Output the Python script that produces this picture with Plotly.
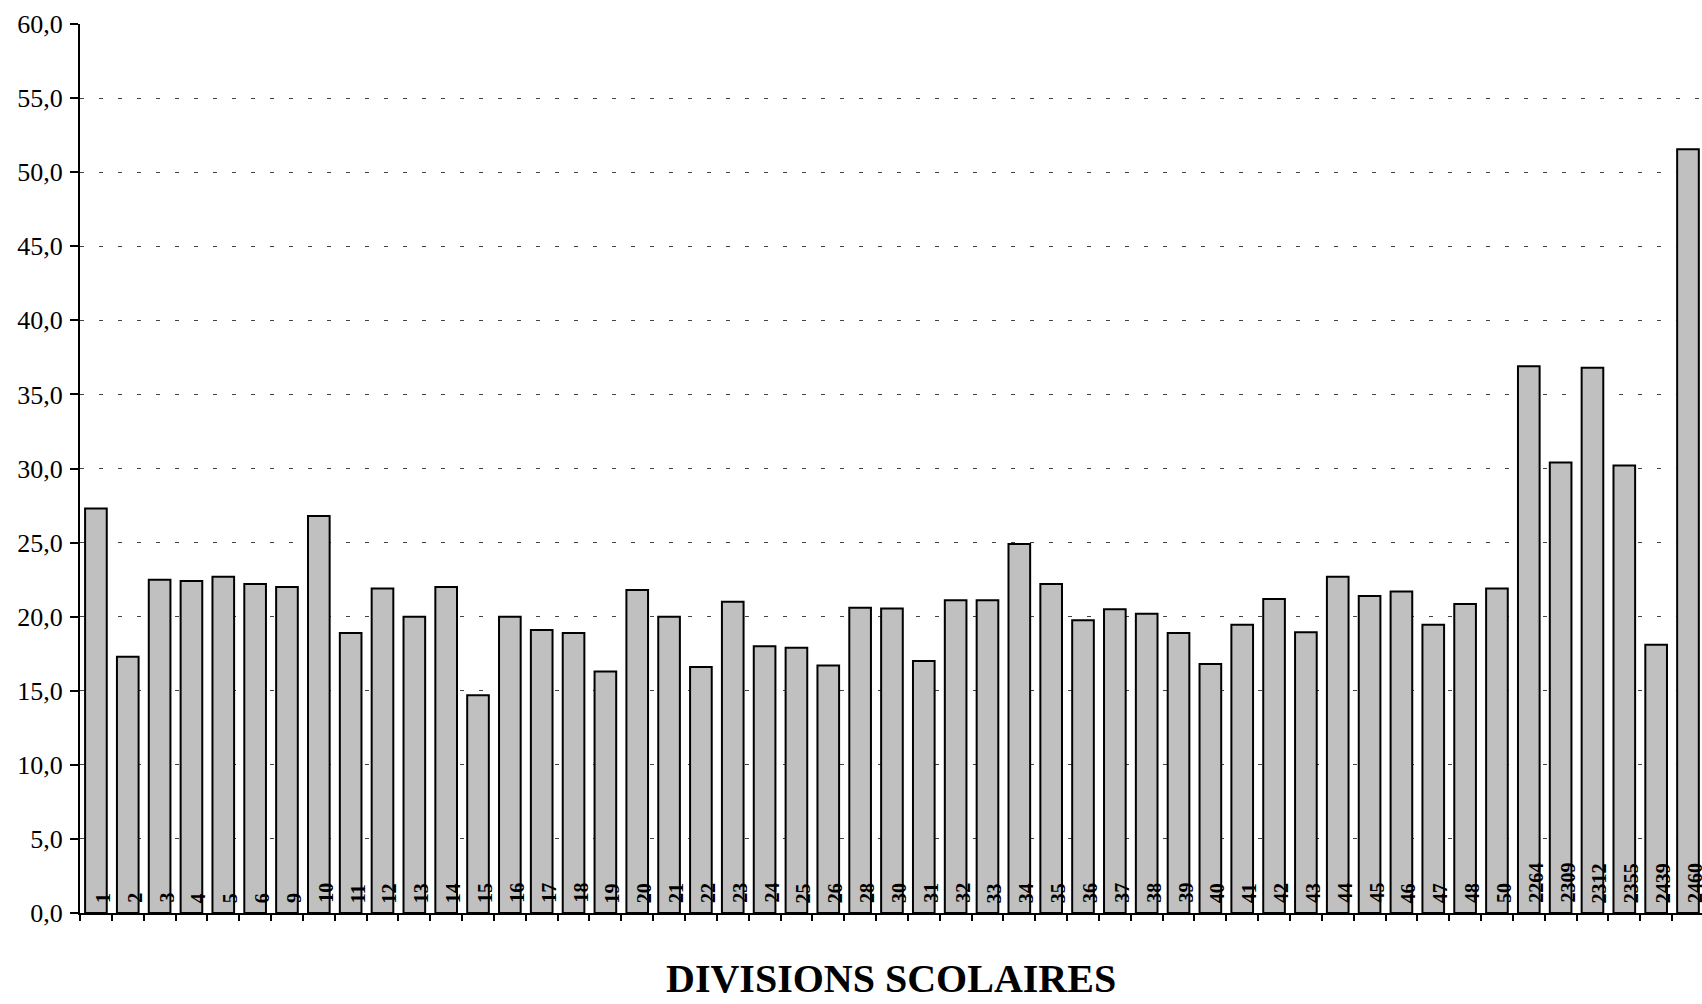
import plotly.graph_objects as go

categories = ["1", "2", "3", "4", "5", "6", "9", "10", "11", "12", "13", "14", "15", "16", "17",
              "18", "19", "20", "21", "22", "23", "24", "25", "26", "28", "30", "31", "32", "33",
              "34", "35", "36", "37", "38", "39", "40", "41", "42", "43", "44", "45", "46", "47",
              "48", "50", "2264", "2309", "2312", "2355", "2439", "2460"]
values = [27.3, 17.3, 22.5, 22.4, 22.7, 22.2, 22.0, 26.8, 18.9, 21.9, 20.0, 22.0, 14.7, 20.0, 19.1,
          18.9, 16.3, 21.8, 20.0, 16.6, 21.0, 18.0, 17.9, 16.7, 20.6, 20.55, 17.0, 21.1, 21.1,
          24.9, 22.2, 19.75, 20.5, 20.2, 18.9, 16.8, 19.45, 21.2, 18.95, 22.7, 21.4, 21.7, 19.45,
          20.85, 21.9, 36.9, 30.4, 36.8, 30.2, 18.1, 51.55]
y_ticks = [0, 5, 10, 15, 20, 25, 30, 35, 40, 45, 50, 55, 60]
grid_vals = [5, 10, 15, 20, 25, 30, 35, 40, 45, 50, 55]
x_title = "DIVISIONS SCOLAIRES"

FONT = "Liberation Serif"

fig = go.Figure()
fig.add_trace(go.Bar(
    x=categories, y=values,
    marker=dict(color="#C0C0C0", line=dict(color="black", width=2)),
    hoverinfo="x+y",
))
# invisible trace to carry the gridline axis
fig.add_trace(go.Scatter(x=[categories[0]], y=[0], yaxis="y2", mode="markers",
                         marker=dict(opacity=0), showlegend=False, hoverinfo="skip"))

annotations = []
for i, c in enumerate(categories):
    annotations.append(dict(
        x=i, y=0, xref="x", yref="y", text=c, showarrow=False, textangle=-90,
        xanchor="center", yanchor="bottom", xshift=7, yshift=8,
        font=dict(family=FONT, size=20, color="black", weight="bold"),
    ))
annotations.append(dict(
    x=0.5, y=-0.0742, xref="paper", yref="paper", text="<b>" + x_title + "</b>",
    showarrow=False, xanchor="center", yanchor="middle",
    font=dict(family=FONT, size=40, color="black"),
))

fig.update_layout(
    width=1702, height=1004,
    margin=dict(l=80, r=0, t=24, b=91),
    paper_bgcolor="white", plot_bgcolor="white",
    separators=", ",
    bargap=0.32,
    showlegend=False,
    font=dict(family=FONT, color="black"),
    xaxis=dict(
        type="category", range=[-0.5, 50.44],
        showline=True, linecolor="black", linewidth=2,
        ticks="outside", ticklen=6, tickwidth=2, tickcolor="black",
        tickson="boundaries", showticklabels=False, showgrid=False, zeroline=False,
    ),
    yaxis=dict(
        range=[0, 60], tickvals=y_ticks, tickformat=".1f",
        showline=True, linecolor="black", linewidth=2,
        ticks="outside", ticklen=8, tickwidth=2, tickcolor="black",
        tickfont=dict(family=FONT, size=26, color="black"),
        ticklabelstandoff=2,
        showgrid=False, zeroline=False,
    ),
    yaxis2=dict(
        range=[0, 60], overlaying="y", tickvals=grid_vals, showticklabels=False,
        showgrid=True, gridcolor="#444444", gridwidth=1, griddash="4px,15px",
        ticks="", zeroline=False, showline=False,
    ),
    annotations=annotations,
)

fig.write_html("out.html", config={"displayModeBar": False},
               post_script="document.body.style.margin='0';document.body.style.overflow='hidden';")
